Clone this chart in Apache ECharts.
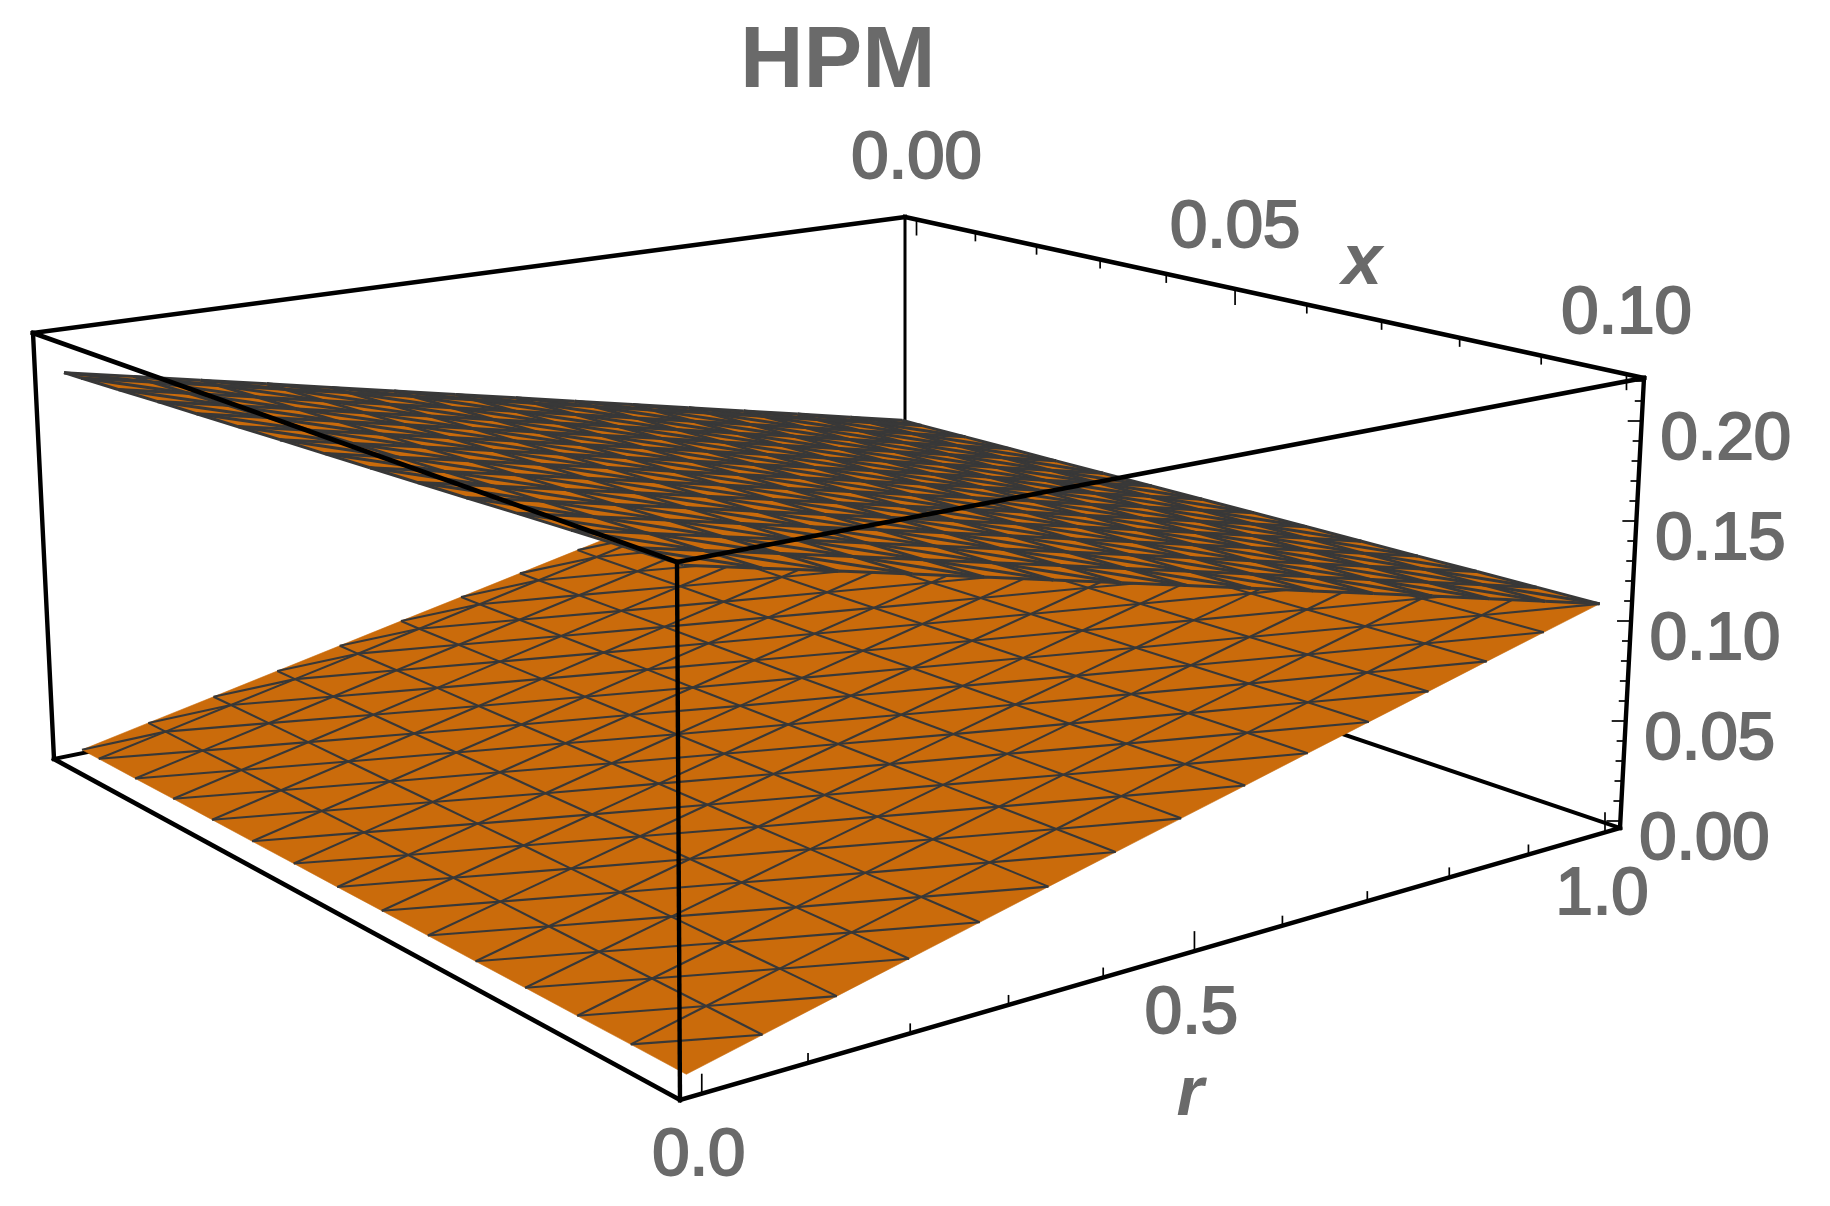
<!DOCTYPE html>
<html><head><meta charset="utf-8">
<style>html,body{margin:0;padding:0;background:#fff}#c{width:1830px;height:1206px}</style>
<script src="https://cdn.jsdelivr.net/npm/echarts@6/dist/echarts.min.js"></script>
</head><body><div id="c"></div>
<script>
const chartTitle = 'HPM';
const rGrid = [0,0.0714,0.1429,0.2143,0.2857,0.3571,0.4286,0.5,0.5714,0.6429,0.7143,0.7857,0.8571,0.9286,1];
const xGrid = [0,0.0035,0.0109,0.0184,0.0258,0.0332,0.0406,0.0481,0.0555,0.0629,0.0703,0.0777,0.0852,0.0926,0.1];
// Rows follow xGrid, columns follow rGrid.
const lowerSheet = [
[.0020,.0091,.0161,.0232,.0303,.0374,.0444,.0515,.0586,.0656,.0727,.0798,.0869,.0939,.1010],
[.0020,.0091,.0162,.0232,.0303,.0374,.0445,.0516,.0586,.0657,.0728,.0799,.0870,.0941,.1012],
[.0019,.0090,.0162,.0233,.0305,.0376,.0447,.0519,.0590,.0662,.0733,.0804,.0876,.0947,.1018],
[.0019,.0091,.0162,.0234,.0306,.0378,.0449,.0521,.0593,.0664,.0736,.0808,.0879,.0951,.1023],
[.0018,.0090,.0162,.0234,.0306,.0379,.0451,.0523,.0595,.0667,.0739,.0811,.0883,.0955,.1028],
[.0017,.0090,.0162,.0235,.0307,.0380,.0453,.0525,.0598,.0670,.0743,.0816,.0888,.0961,.1033],
[.0017,.0090,.0163,.0236,.0309,.0382,.0454,.0527,.0600,.0673,.0746,.0819,.0892,.0965,.1038],
[.0016,.0089,.0163,.0236,.0310,.0383,.0456,.0530,.0603,.0677,.0750,.0823,.0897,.0970,.1044],
[.0016,.0090,.0164,.0237,.0311,.0385,.0459,.0533,.0606,.0680,.0754,.0828,.0902,.0975,.1049],
[.0015,.0089,.0163,.0238,.0312,.0386,.0460,.0534,.0609,.0683,.0757,.0831,.0905,.0980,.1054],
[.0014,.0089,.0163,.0238,.0312,.0387,.0462,.0536,.0611,.0685,.0760,.0835,.0909,.0984,.1059],
[.0014,.0089,.0164,.0239,.0314,.0389,.0464,.0539,.0614,.0689,.0764,.0839,.0914,.0989,.1064],
[.0013,.0089,.0164,.0240,.0315,.0391,.0466,.0542,.0617,.0693,.0768,.0844,.0919,.0995,.1070],
[.0013,.0089,.0165,.0241,.0317,.0393,.0468,.0544,.0620,.0696,.0772,.0848,.0924,.0999,.1075],
[.0012,.0088,.0165,.0241,.0317,.0394,.0470,.0546,.0622,.0699,.0775,.0851,.0928,.1004,.1080]
];
const upperSheet = [
[.2010,.1939,.1867,.1796,.1724,.1653,.1581,.1510,.1439,.1367,.1296,.1224,.1153,.1081,.1010],
[.2015,.1943,.1872,.1800,.1728,.1657,.1585,.1513,.1442,.1370,.1299,.1227,.1155,.1084,.1012],
[.2026,.1954,.1882,.1810,.1738,.1666,.1594,.1522,.1450,.1378,.1306,.1234,.1162,.1090,.1018],
[.2038,.1965,.1893,.1820,.1748,.1675,.1603,.1530,.1458,.1385,.1313,.1240,.1168,.1095,.1023],
[.2049,.1976,.1903,.1830,.1757,.1684,.1612,.1539,.1466,.1393,.1320,.1247,.1174,.1101,.1028],
[.2060,.1987,.1913,.1840,.1766,.1693,.1620,.1546,.1473,.1399,.1326,.1253,.1179,.1106,.1033],
[.2071,.1997,.1923,.1850,.1776,.1702,.1628,.1554,.1481,.1407,.1333,.1259,.1185,.1112,.1038],
[.2082,.2008,.1934,.1860,.1786,.1711,.1637,.1563,.1489,.1415,.1341,.1267,.1193,.1118,.1044],
[.2093,.2018,.1944,.1869,.1795,.1720,.1645,.1571,.1496,.1422,.1347,.1272,.1198,.1123,.1049],
[.2104,.2029,.1954,.1879,.1804,.1729,.1654,.1579,.1504,.1429,.1354,.1279,.1204,.1129,.1054],
[.2115,.2040,.1964,.1889,.1813,.1738,.1663,.1587,.1512,.1436,.1361,.1286,.1210,.1135,.1059],
[.2127,.2051,.1975,.1899,.1823,.1747,.1672,.1596,.1520,.1444,.1368,.1292,.1216,.1140,.1064],
[.2138,.2062,.1985,.1909,.1833,.1756,.1680,.1604,.1528,.1451,.1375,.1299,.1222,.1146,.1070],
[.2149,.2072,.1996,.1919,.1842,.1765,.1689,.1612,.1535,.1459,.1382,.1305,.1228,.1152,.1075],
[.2160,.2083,.2006,.1929,.1852,.1774,.1697,.1620,.1543,.1466,.1389,.1312,.1235,.1157,.1080]
];
const rTicks = [0,0.1,0.2,0.3,0.4,0.5,0.6,0.7,0.8,0.9,1];
const rLabels = [[0,'0.0'],[0.5,'0.5'],[1,'1.0']];
const xTicks = [0,0.01,0.02,0.03,0.04,0.05,0.06,0.07,0.08,0.09,0.1];
const xLabels = [[0,'0.00'],[0.05,'0.05'],[0.1,'0.10']];
const zTicks = [0,0.01,0.02,0.03,0.04,0.05,0.06,0.07,0.08,0.09,0.1,0.11,0.12,0.13,0.14,0.15,0.16,0.17,0.18,0.19,0.2,0.21,0.22];
const zLabels = [[0,'0.00'],[0.05,'0.05'],[0.1,'0.10'],[0.15,'0.15'],[0.2,'0.20']];

// Box domain (r, x, z) including the frame padding
const rDom = [-0.02, 1.02], xDom = [-0.002, 0.102], zDom = [-0.0035, 0.2215];
// Screen frame of the box: left, back, right, front corners on floor and ceiling
const floorQuad = [[54,759],[905,586],[1620,828],[680,1100]];
const ceilQuad = [[33,333],[905,217],[1644,378],[677,562]];

function homography(q) {
  const [x0,y0]=q[0],[x1,y1]=q[1],[x2,y2]=q[2],[x3,y3]=q[3];
  const dx1=x1-x2,dx2=x3-x2,sx=x0-x1+x2-x3,dy1=y1-y2,dy2=y3-y2,sy=y0-y1+y2-y3;
  const det=dx1*dy2-dx2*dy1,g=(sx*dy2-dx2*sy)/det,h=(dx1*sy-sx*dy1)/det;
  const a=x1-x0+g*x1,b=x3-x0+h*x3,d=y1-y0+g*y1,e=y3-y0+h*y3;
  return (u,v)=>{const w=g*u+h*v+1;return [(a*u+b*v+x0)/w,(d*u+e*v+y0)/w];};
}
const hFloor=homography(floorQuad), hCeil=homography(ceilQuad);
function project(r,x,z){
  const u=(r-rDom[0])/(rDom[1]-rDom[0]),v=(x-xDom[0])/(xDom[1]-xDom[0]),w=(z-zDom[0])/(zDom[1]-zDom[0]);
  const a=hFloor(u,v),b=hCeil(u,v);
  return [a[0]+(b[0]-a[0])*w,a[1]+(b[1]-a[1])*w];
}
const R0=rDom[0],R1=rDom[1],X0=xDom[0],X1=xDom[1],Z0=zDom[0],Z1=zDom[1];
const backEdges=[[R0,X0,Z0,R1,X0,Z0,4],[R1,X0,Z0,R1,X1,Z0,4],[R1,X0,Z0,R1,X0,Z1,3]];
const frontEdges=[
 [R0,X0,Z1,R1,X0,Z1,4.6],[R1,X0,Z1,R1,X1,Z1,4.6],[R1,X1,Z1,R0,X1,Z1,4.6],[R0,X1,Z1,R0,X0,Z1,4.6],
 [R0,X0,Z1,R0,X0,Z0,4.4],[R0,X1,Z1,R0,X1,Z0,4.4],[R1,X1,Z1,R1,X1,Z0,4.4],
 [R0,X0,Z0,R0,X1,Z0,4.6],[R0,X1,Z0,R1,X1,Z0,4.6]
];
const ORANGE='#ca6b0b', MESH='#383838', INK='#000', LABEL='#6a6a6a';
const cells=[];
for(let j=0;j<xGrid.length-1;j++)for(let i=0;i<rGrid.length-1;i++)cells.push([i,j]);

function pt(api,r,x,z){return api.coord(project(r,x,z));}
function fillSeries(sheet,z,color){
  return {type:'custom',coordinateSystem:'cartesian2d',silent:true,z,clip:false,data:cells,
   renderItem:(p,api)=>{const i=api.value(0),j=api.value(1);
     const pts=[[i,j],[i+1,j],[i+1,j+1],[i,j+1]].map(([a,b])=>pt(api,rGrid[a],xGrid[b],sheet[b][a]));
     return {type:'polygon',shape:{points:pts},style:{fill:color,stroke:color,lineWidth:0.6}};}};
}
function meshSeries(sheet,z,width,outline){
  return {type:'custom',coordinateSystem:'cartesian2d',silent:true,z,clip:false,data:cells,
   renderItem:(p,api)=>{const i=api.value(0),j=api.value(1);
     const P=(a,b)=>pt(api,rGrid[a],xGrid[b],sheet[b][a]);
     const segs=[[P(i,j),P(i+1,j+1)]];
     if(i>0||outline)segs.push([P(i,j),P(i,j+1)]);
     if(j>0||outline)segs.push([P(i,j),P(i+1,j)]);
     if(outline&&i===rGrid.length-2)segs.push([P(i+1,j),P(i+1,j+1)]);
     if(outline&&j===xGrid.length-2)segs.push([P(i,j+1),P(i+1,j+1)]);
     return {type:'group',children:segs.map(s=>({type:'polyline',shape:{points:s},style:{stroke:MESH,lineWidth:width,fill:null}}))};}};
}
function edgeSeries(edges,z){
  return {type:'custom',coordinateSystem:'cartesian2d',silent:true,z,clip:false,data:edges,
   renderItem:(p,api)=>{const e=[0,1,2,3,4,5,6].map(k=>api.value(k));
     return {type:'polyline',shape:{points:[pt(api,e[0],e[1],e[2]),pt(api,e[3],e[4],e[5])]},style:{stroke:INK,lineWidth:e[6],fill:null,lineCap:'square'}};}};
}
function tickSeries(ticks,labels,at,dir,longLen,shortLen){
  const major=labels.map(l=>l[0]);
  return {type:'custom',coordinateSystem:'cartesian2d',silent:true,z:30,clip:false,data:ticks.map(t=>[t]),
   renderItem:(p,api)=>{const t=api.value(0);const a=api.coord(project(...at(t)));
     const len=major.some(m=>Math.abs(m-t)<1e-9)?longLen:shortLen;
     return {type:'line',shape:{x1:a[0],y1:a[1],x2:a[0]+dir[0]*len,y2:a[1]+dir[1]*len},style:{stroke:INK,lineWidth:1.7}};}};
}
function labelSeries(labels,at,off){
  return {type:'custom',coordinateSystem:'cartesian2d',silent:true,z:40,clip:false,data:labels.map(l=>[l[0]]),
   renderItem:(p,api)=>{const t=api.value(0);const a=api.coord(project(...at(t)));
     const lab=labels.find(l=>l[0]===t)[1];
     return {type:'text',style:{text:lab,x:a[0]+off[0],y:a[1]+off[1],align:'center',verticalAlign:'middle',fill:LABEL,stroke:LABEL,lineWidth:2.2,
       font:'normal 67px "Liberation Sans"'}};}};
}
const atR=t=>[t,X1,Z0],atX=t=>[R1,t,Z1],atZ=t=>[R1,X1,t];
const chart=echarts.init(document.getElementById('c'),null,{renderer:'canvas',width:1830,height:1206});
chart.setOption({
 animation:false,backgroundColor:'#fff',
 title:{text:chartTitle,left:735,top:14,textStyle:{fontSize:88,fontWeight:'bold',color:LABEL,fontFamily:'Liberation Sans'}},
 tooltip:{show:false},
 grid:{left:0,right:0,top:0,bottom:0},
 xAxis:{type:'value',min:0,max:1830,show:false},
 yAxis:{type:'value',min:0,max:1206,inverse:true,show:false},
 graphic:{elements:[
  {type:'text',z:40,style:{text:'x',x:1362,y:264,align:'center',verticalAlign:'middle',fill:LABEL,font:'italic bold 72px "Liberation Sans"'}},
  {type:'text',z:40,style:{text:'r',x:1190,y:1096,align:'center',verticalAlign:'middle',fill:LABEL,font:'italic bold 70px "Liberation Sans"'}}
 ]},
 series:[
  edgeSeries(backEdges,2),
  fillSeries(lowerSheet,5,ORANGE),
  meshSeries(lowerSheet,6,2.1,false),
  fillSeries(upperSheet,7,ORANGE),
  meshSeries(upperSheet,8,3,true),
  edgeSeries(frontEdges,20),
  tickSeries(rTicks,rLabels,atR,[0,-1],20,10),
  tickSeries(xTicks,xLabels,atX,[0,1],16,9),
  tickSeries(zTicks,zLabels,atZ,[-1,0],14,8),
  labelSeries(rLabels,atR,[-3,63]),
  labelSeries(xLabels,atX,[0,-60]),
  labelSeries(zLabels,atZ,[84,20])
 ]
});
</script></body></html>
